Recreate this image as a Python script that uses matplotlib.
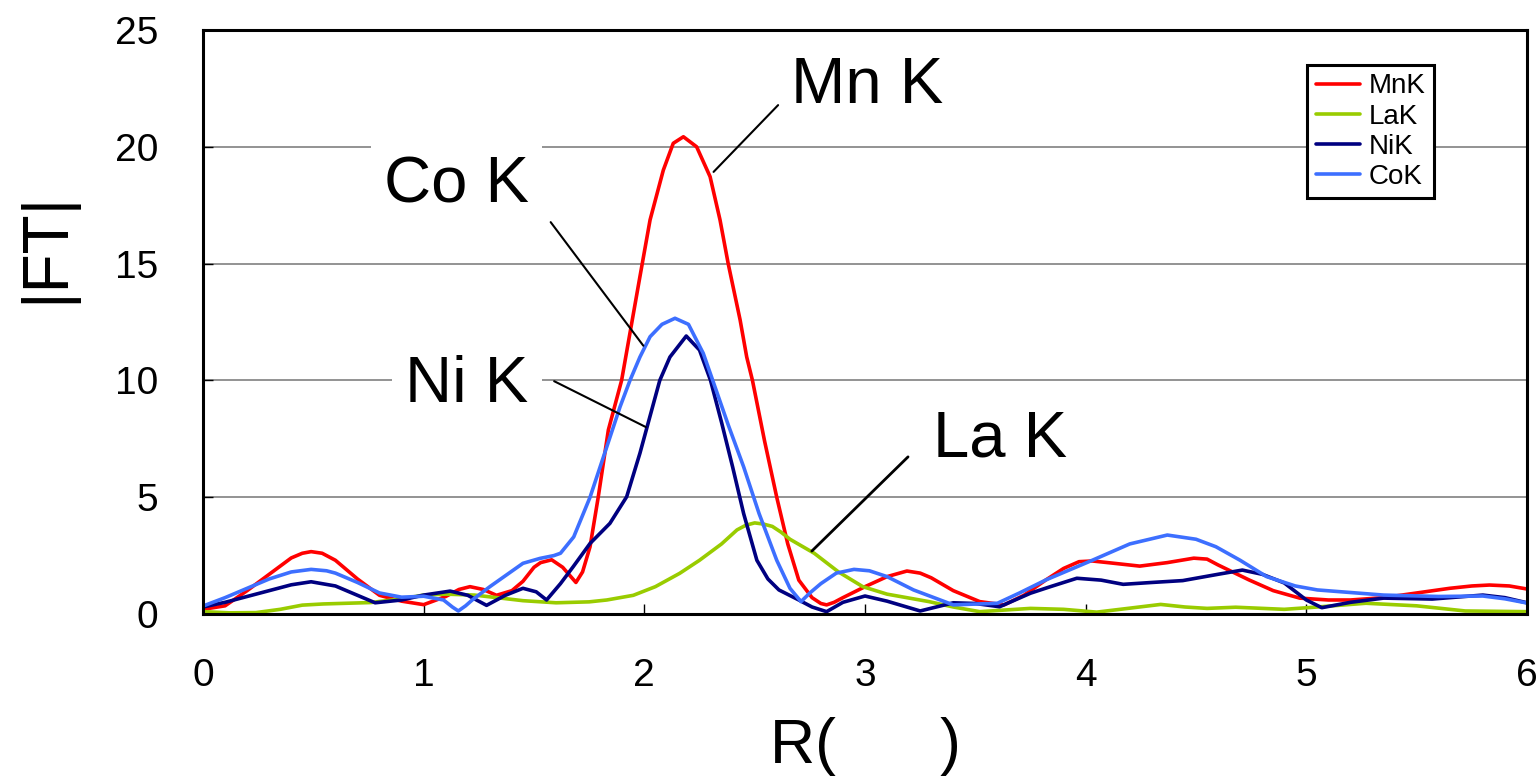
import numpy as np
import matplotlib
matplotlib.use("Agg")
import matplotlib.pyplot as plt

plt.rcParams['font.family'] = ['Liberation Sans', 'DejaVu Sans']

# ---- data (R in Angstrom, |FT|) ----
mn_r = [0.0, 0.1, 0.2, 0.3, 0.4, 0.45, 0.49, 0.54, 0.6, 0.7, 0.8, 0.9, 1.0, 1.1, 1.16, 1.21,
        1.27, 1.33, 1.4, 1.45, 1.5, 1.53, 1.58, 1.63, 1.69, 1.72, 1.754, 1.791, 1.837,
        1.897, 1.94, 1.98, 2.026, 2.086, 2.131, 2.177, 2.237, 2.298, 2.343, 2.38, 2.434,
        2.464, 2.49, 2.545, 2.60, 2.65, 2.70, 2.76, 2.80, 2.826, 2.86, 2.9, 3.0, 3.1, 3.19,
        3.25, 3.3, 3.4, 3.52, 3.63, 3.72, 3.82, 3.9, 3.97, 4.03, 4.1, 4.245, 4.37, 4.49,
        4.55, 4.6, 4.74, 4.85, 4.97, 5.1, 5.2, 5.35, 5.5, 5.65, 5.75, 5.83, 5.92, 6.0]
mn_ft = [0.2, 0.35, 1.0, 1.7, 2.4, 2.6, 2.67, 2.6, 2.3, 1.5, 0.8, 0.55, 0.4, 0.75, 1.05, 1.17,
         1.05, 0.8, 1.0, 1.4, 2.0, 2.2, 2.32, 2.0, 1.35, 1.8, 2.88, 5.0, 7.88,
         10.0, 12.3, 14.44, 16.87, 19.0, 20.15, 20.43, 20.0, 18.72, 16.87, 15.0, 12.59,
         11.0, 10.0, 7.4, 5.0, 3.0, 1.45, 0.7, 0.45, 0.39, 0.5, 0.7, 1.17, 1.6, 1.84,
         1.75, 1.55, 1.0, 0.53, 0.39, 0.8, 1.46, 1.95, 2.24, 2.27, 2.2, 2.05, 2.2, 2.39,
         2.35, 2.1, 1.46, 1.0, 0.68, 0.6, 0.6, 0.7, 0.9, 1.1, 1.2, 1.24, 1.2, 1.07]

la_r = [0.0, 0.12, 0.24, 0.35, 0.45, 0.545, 0.76, 0.9, 1.0, 1.1, 1.23, 1.35, 1.45, 1.6,
        1.75, 1.83, 1.95, 2.05, 2.16, 2.25, 2.35, 2.42, 2.46, 2.50, 2.54, 2.58, 2.62,
        2.66, 2.77, 2.88, 2.99, 3.1, 3.29, 3.4, 3.52, 3.65, 3.75, 3.9, 4.05, 4.2, 4.34,
        4.45, 4.55, 4.68, 4.9, 5.05, 5.27, 5.5, 5.72, 6.0]
la_ft = [0.1, 0.05, 0.06, 0.2, 0.38, 0.43, 0.49, 0.65, 0.81, 0.85, 0.81, 0.68, 0.57, 0.48,
         0.52, 0.6, 0.8, 1.17, 1.74, 2.3, 3.0, 3.6, 3.8, 3.9, 3.85, 3.75, 3.5,
         3.2, 2.6, 1.8, 1.17, 0.85, 0.53, 0.3, 0.1, 0.18, 0.24, 0.2, 0.08, 0.25, 0.41,
         0.3, 0.24, 0.29, 0.2, 0.3, 0.46, 0.35, 0.13, 0.1]

ni_r = [0.0, 0.1, 0.2, 0.3, 0.4, 0.49, 0.6, 0.7, 0.78, 0.9, 1.0, 1.12, 1.2, 1.285, 1.37,
        1.45, 1.51, 1.557, 1.62, 1.678, 1.754, 1.844, 1.92, 1.98, 2.07, 2.116, 2.19,
        2.25, 2.30, 2.35, 2.40, 2.45, 2.51, 2.56, 2.61, 2.7, 2.76, 2.826, 2.9, 3.0,
        3.1, 3.25, 3.40, 3.5, 3.61, 3.75, 3.84, 3.96, 4.07, 4.17, 4.3, 4.44, 4.6, 4.71,
        4.8, 4.9, 5.0, 5.07, 5.2, 5.35, 5.57, 5.8, 5.9, 6.0]
ni_ft = [0.3, 0.5, 0.75, 1.0, 1.25, 1.38, 1.2, 0.8, 0.48, 0.6, 0.81, 0.98, 0.8, 0.37, 0.8,
         1.1, 0.95, 0.6, 1.3, 2.03, 3.02, 3.88, 5.02, 6.88, 10.0, 11.0, 11.9,
         11.3, 10.0, 8.2, 6.3, 4.3, 2.3, 1.5, 1.03, 0.6, 0.3, 0.1, 0.5, 0.77,
         0.55, 0.13, 0.48, 0.45, 0.31, 0.89, 1.17, 1.53, 1.45, 1.27, 1.35, 1.43, 1.7, 1.88,
         1.7, 1.33, 0.6, 0.27, 0.5, 0.68, 0.64, 0.81, 0.7, 0.48]

co_r = [0.0, 0.1, 0.2, 0.3, 0.4, 0.49, 0.56, 0.6, 0.7, 0.8, 0.9, 1.0, 1.09, 1.13, 1.157,
        1.19, 1.22, 1.30, 1.45, 1.527, 1.59, 1.62, 1.68, 1.754, 1.83, 1.89, 1.935, 1.98,
        2.026, 2.08, 2.139, 2.2, 2.267, 2.31, 2.38, 2.45, 2.52, 2.6, 2.66, 2.71,
        2.75, 2.8, 2.87, 2.95, 3.02, 3.1, 3.22, 3.4, 3.6, 3.7, 3.82, 4.03, 4.2, 4.37,
        4.5, 4.59, 4.7, 4.82, 4.95, 5.05, 5.35, 5.6, 5.8, 5.9, 6.0]
co_ft = [0.34, 0.7, 1.1, 1.5, 1.8, 1.91, 1.85, 1.75, 1.35, 0.9, 0.72, 0.76, 0.6, 0.3, 0.13,
         0.35, 0.6, 1.17, 2.17, 2.38, 2.5, 2.6, 3.3, 5.0, 7.16, 8.87, 10.0, 11.0,
         11.87, 12.4, 12.66, 12.4, 11.16, 10.0, 8.1, 6.3, 4.3, 2.3, 1.1, 0.53,
         0.9, 1.3, 1.75, 1.91, 1.85, 1.6, 1.03, 0.39, 0.46, 0.9, 1.46, 2.3, 3.0, 3.38,
         3.2, 2.88, 2.3, 1.6, 1.2, 1.03, 0.81, 0.75, 0.77, 0.65, 0.47]

series = [
    ("MnK", mn_r, mn_ft, "#ff0000"),
    ("LaK", la_r, la_ft, "#99cc00"),
    ("NiK", ni_r, ni_ft, "#000080"),
    ("CoK", co_r, co_ft, "#3d6fff"),
]

fig = plt.figure(figsize=(15.39, 7.76), dpi=100)
ax = fig.add_axes([203 / 1539, 1 - 614 / 776, 1324 / 1539, 584 / 776])

for name, r, ft, col in series:
    ax.plot(r, ft, color=col, lw=2.6, label=name,
            solid_capstyle="round", solid_joinstyle="round")

ax.set_xlim(0, 6)
ax.set_ylim(0, 25)
ax.set_xticks(range(0, 7))
ax.set_yticks(range(0, 26, 5))
ax.yaxis.grid(True, color="#808080", lw=1.2)
ax.set_axisbelow(True)
ax.tick_params(direction="in", length=7, width=1, labelsize=28)
ax.tick_params(axis="x", pad=32)
ax.tick_params(axis="y", pad=32)
for sp in ax.spines.values():
    sp.set_linewidth(2.2)
    sp.set_color("black")

ax.set_xlabel("R(      )", fontsize=45, labelpad=16)
ax.set_ylabel("|FT|", fontsize=46)
ax.yaxis.set_label_coords(-0.096, 0.627)

# curve labels with leader lines
box = dict(boxstyle="square,pad=0.2", fc="white", ec="none")
ax.text(3.01, 22.6, "Mn K", fontsize=47, ha="center", va="center", bbox=box)
ax.annotate("", xy=(2.305, 18.84), xytext=(2.615, 21.87),
            arrowprops=dict(arrowstyle="-", color="black", lw=1.5))
ax.text(1.15, 18.36, "Co K", fontsize=47, ha="center", va="center", bbox=box)
ax.annotate("", xy=(2.003, 11.39), xytext=(1.568, 16.87),
            arrowprops=dict(arrowstyle="-", color="black", lw=1.5))
ax.text(1.196, 9.8, "Ni K", fontsize=47, ha="center", va="center", bbox=box)
ax.annotate("", xy=(2.018, 7.95), xytext=(1.58, 10.02),
            arrowprops=dict(arrowstyle="-", color="black", lw=1.5))
ax.text(3.61, 7.45, "La K", fontsize=47, ha="center", va="center", bbox=box)
ax.annotate("", xy=(2.75, 2.61), xytext=(3.204, 6.81),
            arrowprops=dict(arrowstyle="-", color="black", lw=2))

leg = ax.legend(loc="upper left", bbox_to_anchor=(0.834, 0.94), fontsize=20,
                frameon=True, fancybox=False, framealpha=1, edgecolor="black",
                handlelength=1.6, handletextpad=0.3, labelspacing=0.15,
                borderpad=0.3, borderaxespad=0)
leg.get_frame().set_linewidth(2.2)

fig.savefig("out.png", dpi=100)
